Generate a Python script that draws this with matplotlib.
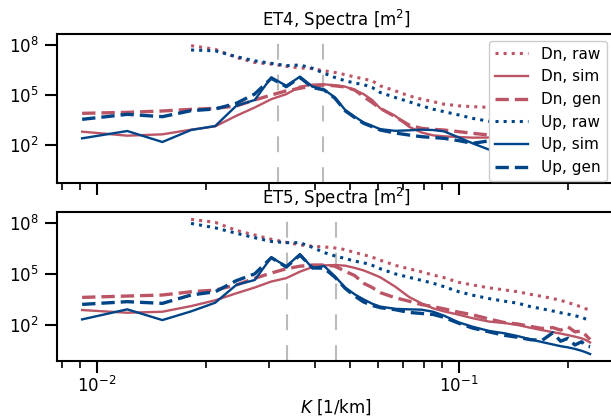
import numpy as np
import matplotlib
matplotlib.use("Agg")
import matplotlib.pyplot as plt
from matplotlib.ticker import FixedLocator, NullLocator, LogFormatterMathtext

nan = np.nan

# Wavenumber grid (1/km)
K = [0.00911, 0.01214, 0.01518, 0.01822, 0.02125, 0.02429, 0.02732, 0.03036,
     0.03340, 0.03643, 0.03947, 0.04250, 0.04554, 0.04858, 0.05161, 0.05465,
     0.05768, 0.06072, 0.06679, 0.07286, 0.07894, 0.08501, 0.09108, 0.10019,
     0.10930, 0.12144, 0.13358, 0.14573, 0.15787, 0.17002, 0.18216, 0.19127,
     0.20038, 0.20948, 0.21859, 0.22466, 0.23074]

# ---- ET4 (log10 of spectra, m^2) ----
et4_dn_raw = [nan, nan, nan, 7.96, 7.74, 7.25, 6.95, 6.85, 6.72, 6.62, 6.58, 6.45,
              6.35, 6.22, 6.08, 5.97, 5.85, 5.55, 5.25, 4.95, 4.75, 4.6, 4.45, 4.35,
              4.3, 4.26, 4.15, 4.05, 3.95, 3.85, 3.75, 3.7, 3.6, 3.5, 3.45, 3.4, 3.3]
et4_dn_sim = [2.80, 2.56, 2.64, 2.92, 3.12, 3.75, 4.25, 4.75, 5.05, 5.5, 5.62, 5.64,
              5.58, 5.5, 5.3, 5.05, 4.7, 4.2, 3.75, 3.1, 2.75, 2.58, 2.52, 2.48,
              2.44, 2.45, 2.35, 2.25, 2.15, 2.0, 1.9, 1.85, 1.75, 1.7, 1.6, 1.55, 1.5]
et4_dn_gen = [3.90, 3.96, 4.04, 4.14, 4.2, 4.34, 4.7, 5.0, 5.25, 5.4, 5.55, 5.6,
              5.55, 5.48, 5.3, 4.9, 4.55, 4.2, 3.7, 3.2, 3.0, 2.94, 2.9, 2.8,
              2.7, 2.6, 2.45, 2.35, 2.25, 2.15, 2.05, 1.95, 1.9, 1.8, 1.75, 1.7, 1.6]
et4_up_raw = [nan, nan, nan, 7.7, 7.65, 7.3, 7.05, 6.9, 6.76, 6.8, 6.6, 6.3,
              6.05, 5.85, 5.72, 5.62, 5.45, 5.15, 4.85, 4.6, 4.35, 4.15, 4.0, 3.8,
              3.6, 3.42, 3.25, 3.1, 2.95, 2.8, 2.7, 2.6, 2.5, 2.4, 2.3, 2.25, 2.2]
et4_up_sim = [2.40, 2.84, 2.18, 2.9, 3.14, 4.35, 4.7, 6.06, 5.55, 6.1, 5.5, 5.32,
              4.85, 4.1, 3.7, 3.35, 3.15, 2.95, 2.85, 2.88, 2.92, 2.9, 2.82, 2.45,
              2.1, 1.72, 1.6, 1.5, 1.35, 1.2, 1.05, 0.95, 0.85, 0.75, 0.65, 0.6, 0.55]
et4_up_gen = [3.54, 3.84, 3.70, 4.06, 4.16, 4.5, 5.06, 6.0, 5.5, 6.05, 5.45, 5.3,
              4.8, 4.05, 3.65, 3.3, 3.1, 2.9, 2.72, 2.6, 2.5, 2.45, 2.4, 2.26,
              2.1, 2.25, 1.7, 1.6, 1.45, 1.3, 1.2, 1.1, 1.0, 0.9, 0.85, 0.8, 0.75]

# ---- ET5 (log10 of spectra, m^2) ----
et5_dn_raw = [nan, nan, nan, 8.2, 8.02, 7.55, 7.28, 7.03, 6.85, 6.7, 6.62, 6.58,
              6.52, 6.42, 6.25, 6.12, 5.98, 5.8, 5.5, 5.3, 5.12, 4.93, 4.78, 4.5,
              4.35, 4.18, 4.06, 3.95, 3.8, 3.68, 3.55, 3.45, 3.31, 3.2, 3.05, 2.95, 2.88]
et5_dn_sim = [2.88, 2.72, 2.78, 3.11, 3.45, 3.86, 4.2, 4.55, 4.75, 5.13, 5.4, 5.5,
              5.52, 5.48, 5.35, 5.2, 5.0, 4.8, 4.25, 3.65, 3.27, 2.98, 2.8, 2.6,
              2.4, 2.2, 2.12, 2.0, 1.84, 1.7, 1.58, 1.5, 1.41, 1.32, 1.22, 1.12, 0.98]
et5_dn_gen = [3.62, 3.70, 3.76, 3.95, 4.05, 4.35, 4.74, 5.05, 5.3, 5.45, 5.52, 5.52,
              5.45, 5.15, 4.9, 4.45, 4.2, 3.9, 3.6, 3.4, 3.2, 3.08, 2.95, 2.75,
              2.6, 2.35, 2.15, 2.06, 1.92, 1.8, 1.85, 1.7, 1.9, 1.6, 1.65, 1.4, 1.15]
et5_up_raw = [nan, nan, nan, 7.96, 7.7, 7.38, 7.12, 6.9, 6.83, 6.83, 6.55, 6.25,
              6.05, 5.9, 5.75, 5.65, 5.5, 5.3, 5.0, 4.8, 4.62, 4.45, 4.25, 3.95,
              3.75, 3.55, 3.4, 3.28, 3.08, 2.95, 2.82, 2.72, 2.64, 2.55, 2.45, 2.35, 2.28]
et5_up_sim = [2.33, 2.92, 2.29, 2.8, 3.31, 4.35, 4.64, 5.97, 5.44, 6.16, 5.33, 5.46,
              4.85, 4.2, 3.8, 3.5, 3.25, 3.08, 2.95, 2.92, 2.9, 2.78, 2.55, 2.15,
              1.9, 1.65, 1.52, 1.35, 1.16, 1.0, 0.86, 0.76, 0.69, 0.6, 0.49, 0.4, 0.3]
et5_up_gen = [3.21, 3.37, 3.27, 3.76, 3.95, 4.6, 5.0, 5.95, 5.4, 6.1, 5.35, 5.33,
              4.8, 4.15, 3.7, 3.35, 3.15, 3.02, 2.9, 2.74, 2.68, 2.62, 2.45, 2.1,
              1.82, 1.6, 1.4, 1.28, 1.14, 1.1, 1.55, 1.05, 1.22, 0.83, 1.02, 0.78, 0.73]

# Reference wavenumbers (grey dashed lines)
et4_kref = [0.0316, 0.0422]
et5_kref = [0.0335, 0.0458]

labels = ["Dn, raw", "Dn, sim", "Dn, gen", "Up, raw", "Up, sim", "Up, gen"]
titles = ["ET4, Spectra [m$^2$]", "ET5, Spectra [m$^2$]"]

RED = "#BB5566"
BLUE = "#004488"
GREY = "#BBBBBB"

plt.rcParams.update({
    "font.family": "DejaVu Sans",
    "axes.linewidth": 1.5,
    "xtick.major.size": 8.5, "xtick.minor.size": 5,
    "ytick.major.size": 8.5, "ytick.minor.size": 5,
    "xtick.major.width": 1.5, "xtick.minor.width": 1.2,
    "ytick.major.width": 1.5, "ytick.minor.width": 1.2,
    "xtick.labelsize": 12, "ytick.labelsize": 12,
    "axes.titlesize": 12, "axes.labelsize": 12,
    "legend.fontsize": 11,
})

fig = plt.figure(figsize=(6.11, 4.19), dpi=100)
ax1 = fig.add_axes([0.0928, 0.5640, 0.9146, 0.3549])
ax2 = fig.add_axes([0.0928, 0.1384, 0.9146, 0.3549], sharex=ax1)

panels = [
    (ax1, [et4_dn_raw, et4_dn_sim, et4_dn_gen, et4_up_raw, et4_up_sim, et4_up_gen], et4_kref, (10**-0.26, 10**8.66)),
    (ax2, [et5_dn_raw, et5_dn_sim, et5_dn_gen, et5_up_raw, et5_up_sim, et5_up_gen], et5_kref, (10**-0.11, 10**8.61)),
]

colors = [RED, RED, RED, BLUE, BLUE, BLUE]
kinds = ["raw", "sim", "gen", "raw", "sim", "gen"]

for i, (ax, series, kref, ylim) in enumerate(panels):
    kx = np.array(K)
    for s, c, kind, lab in zip(series, colors, kinds, labels):
        y = 10 ** np.array(s, dtype=float)
        if kind == "raw":
            ax.plot(kx, y, color=c, lw=2.2, linestyle=(0, (1, 1.65)), label=lab)
        elif kind == "sim":
            ax.plot(kx, y, color=c, lw=1.7, linestyle="-", label=lab)
        else:
            ax.plot(kx, y, color=c, lw=2.4, linestyle=(0, (4.0, 1.8)), label=lab)
    for kr in kref:
        ax.axvline(kr, color=GREY, lw=1.5, linestyle=(0, (7.6, 7.2)), zorder=0.5)
    ax.set_xscale("log")
    ax.set_yscale("log")
    ax.set_ylim(*ylim)
    ax.yaxis.set_major_locator(FixedLocator([1e2, 1e5, 1e8]))
    ax.yaxis.set_major_formatter(LogFormatterMathtext())
    ax.yaxis.set_minor_locator(NullLocator())
    ax.set_title(titles[i], pad=6)
    ax.tick_params(axis="y", pad=4.5)
    ax.tick_params(axis="x", which="both", pad=2)

ax1.set_xlim(0.00775, 0.2713)
ax1.tick_params(axis="x", which="both", labelbottom=False)
ax2.set_xlabel("$K$ [1/km]", labelpad=1)

leg = ax1.legend(loc="upper right", bbox_to_anchor=(606.7 / 611, 1 - 40.7 / 419),
                 bbox_transform=fig.transFigure, borderaxespad=0, framealpha=1,
                 edgecolor="0.8", handlelength=2.2, labelspacing=0.5)
leg.set_zorder(10)

fig.savefig("out.png", dpi=100)
